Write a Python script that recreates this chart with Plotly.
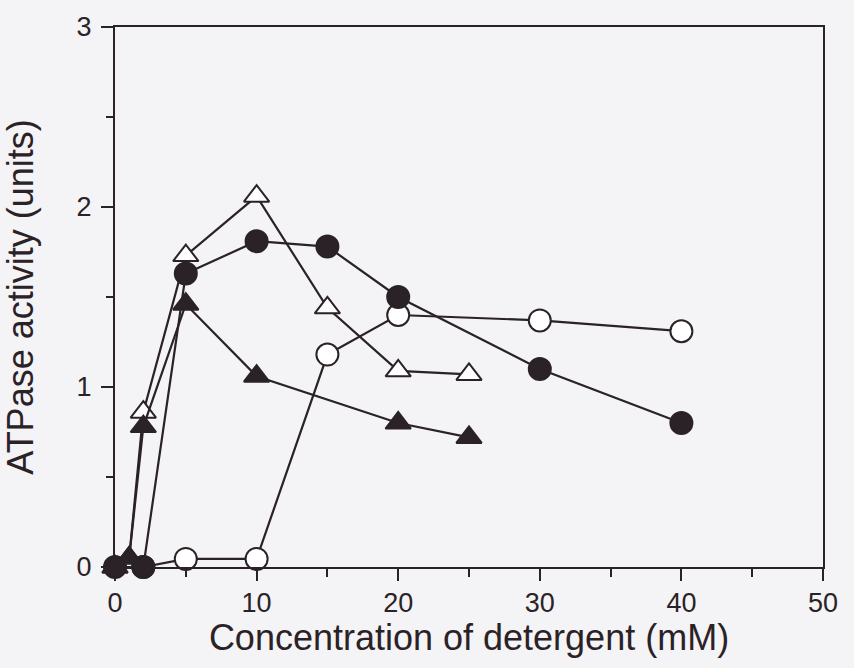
import plotly.graph_objects as go

# ATPase activity versus detergent concentration, four preparations
x_filled_tri = [0, 1, 2, 5, 10, 20, 25]
y_filled_tri = [0, 0.05, 0.78, 1.46, 1.06, 0.80, 0.72]

x_open_tri = [0, 1, 2, 5, 10, 15, 20, 25]
y_open_tri = [0, 0.05, 0.86, 1.73, 2.06, 1.44, 1.09, 1.07]

x_filled_circ = [0, 2, 5, 10, 15, 20, 30, 40]
y_filled_circ = [0, 0, 1.63, 1.81, 1.78, 1.50, 1.10, 0.80]

x_open_circ = [2, 5, 10, 15, 20, 30, 40]
y_open_circ = [0, 0.045, 0.045, 1.18, 1.40, 1.37, 1.31]

x_ticks = [0, 10, 20, 30, 40, 50]
y_ticks = [0, 1, 2, 3]

INK = "#2a2226"
BG = "#f4f3f5"
FONT = "Liberation Sans, Arial, sans-serif"

series = [
    (x_open_circ, y_open_circ, "circle", "white", 22),
    (x_open_tri, y_open_tri, "triangle-up", "white", 22),
    (x_filled_circ, y_filled_circ, "circle", INK, 22),
    (x_filled_tri, y_filled_tri, "triangle-up", INK, 22),
]

fig = go.Figure()
for xs, ys, sym, fill, size in series:
    fig.add_trace(go.Scatter(
        x=xs, y=ys, mode="lines+markers",
        line=dict(color=INK, width=2.2),
        marker=dict(symbol=sym, size=size, color=fill,
                    line=dict(color=INK, width=2)),
        cliponaxis=False, showlegend=False, hoverinfo="skip",
    ))

axis_common = dict(
    showgrid=False, zeroline=False, showline=True, linecolor=INK, linewidth=2.2,
    mirror=True, ticks="outside", ticklen=12, tickwidth=2, tickcolor=INK,
    tickfont=dict(family=FONT, size=27, color=INK),
)

fig.update_xaxes(
    **axis_common, range=[0, 50], tickvals=x_ticks, ticklabelstandoff=-2,
    minor=dict(dtick=5, tick0=0, ticks="outside", ticklen=8, tickwidth=2, tickcolor=INK),
    title=dict(text="Concentration of detergent (mM)",
               font=dict(family=FONT, size=36, color=INK), standoff=2),
)
fig.update_yaxes(
    **axis_common, range=[0, 3], tickvals=y_ticks, ticklabelstandoff=4,
    minor=dict(dtick=0.5, tick0=0, ticks="outside", ticklen=7, tickwidth=2, tickcolor=INK),
    title=dict(text="ATPase activity (units)",
               font=dict(family=FONT, size=36, color=INK), standoff=32),
)

fig.update_layout(
    width=854, height=668,
    margin=dict(l=115, r=31, t=21, b=101),
    paper_bgcolor=BG, plot_bgcolor=BG,
)

fig.write_html("out.html")
